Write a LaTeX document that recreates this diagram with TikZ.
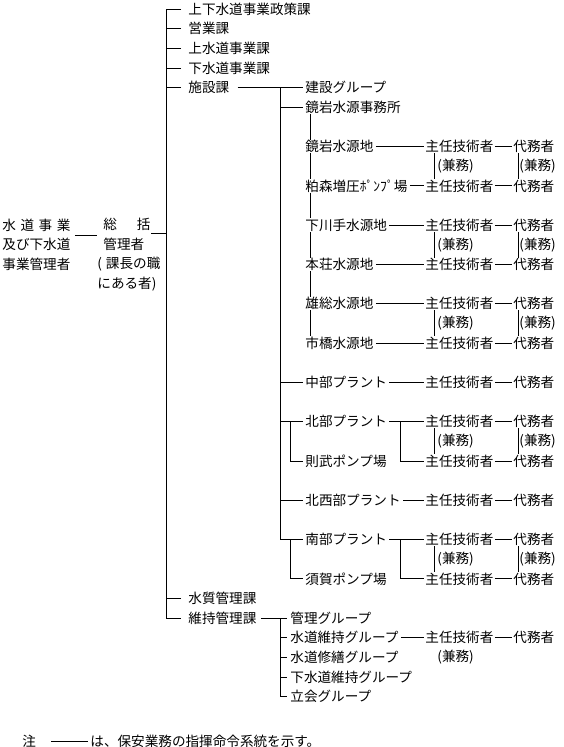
\documentclass[tikz,border=0pt]{standalone}
\usepackage{fontspec}
\setmainfont{Noto Sans CJK JP}
\usetikzlibrary{positioning}

\tikzset{
    lbl/.style={anchor=west,inner sep=0pt,font=\fontsize{13.6}{19.65}\selectfont},
    dbl/.style={double,double distance=2pt,line width=0.5pt},
}

\begin{document}
\begin{tikzpicture}[x=1pt,y=-19.65pt,line width=0.8pt]
    \useasboundingbox (0,-0.458) rectangle (563,37.557);
    \node (kanri) [lbl,align=left] at (2,12) {\makebox[68pt][s]{水\hfill 道\hfill 事\hfill 業}\\及び下水道\\事業管理者};
    \node (sokatsu) [lbl,align=left] at (97,12.5) {\hspace{6pt}総\hspace{20pt}括\\\hspace{6pt}管理者\\(\hspace{4pt}課長の職\\にある者)};
    \coordinate (t0) at (166,0);
    \coordinate (t31) at (166,31);
    \draw (kanri.east |- 0,11.5) ++(4,0) -- (sokatsu.west |- 0,11.5);
    \draw (151,11.4) -- (t0 |- 0,11.4);
    \node (d0) [lbl] at (188,0) {上下水道事業政策課};
    \node (d1) [lbl] at (188,1) {営業課};
    \node (d2) [lbl] at (188,2) {上水道事業課};
    \node (d3) [lbl] at (188,3) {下水道事業課};
    \node (d4) [lbl] at (188,4) {施設課};
    \node (d30) [lbl] at (188,30) {水質管理課};
    \node (d31) [lbl] at (188,31) {維持管理課};
    \draw ([xshift=-7pt]d0.west) -- (t0) -- (t31) -- ([xshift=-7pt]d31.west);
    \foreach \n in {d1,d2,d3,d4,d30}
        \draw ([xshift=-7pt]\n.west) -- (t0 |- \n.west);
    \node (g4) [lbl] at (305,4) {建設グループ};
    \node (g5) [lbl] at (305,5) {鏡岩水源事務所};
    \coordinate (s4) at (280,4);
    \coordinate (s27) at (280,27);
    \draw ([xshift=8pt]d4.east) -- ([xshift=-2pt]g4.west);
    \draw (s4) -- (s27);
    \draw (s4 |- g5.west) -- ([xshift=-2pt]g5.west);
    \node (k7) [lbl] at (305,7) {鏡岩水源地};
    \node (k9) [lbl] at (305,9) {粕森増圧ﾎﾟﾝﾌﾟ場};
    \node (k11) [lbl] at (305,11) {下川手水源地};
    \node (k13) [lbl] at (305,13) {本荘水源地};
    \node (k15) [lbl] at (305,15) {雄総水源地};
    \node (k17) [lbl] at (305,17) {市橋水源地};
    \draw ([xshift=5pt]g5.south west) -- ([xshift=5pt]k7.north west);
    \foreach \a/\b in {7/9,9/11,11/13,13/15,15/17}
        \draw ([xshift=5pt]k\a.south west) -- ([xshift=5pt]k\b.north west);
    \node (p19) [lbl] at (305,19) {中部プラント};
    \node (p21) [lbl] at (305,21) {北部プラント};
    \node (p23) [lbl] at (305,23) {則武ポンプ場};
    \node (p25) [lbl] at (305,25) {北西部プラント};
    \node (p27) [lbl] at (305,27) {南部プラント};
    \node (p29) [lbl] at (305,29) {須賀ポンプ場};
    \foreach \r in {19,21,25}
        \draw (s4 |- p\r.west) -- ([xshift=-2pt]p\r.west);
    \draw (s27) -- ([xshift=-2pt]p27.west);
    \draw (290,21) |- ([xshift=-2pt]p23.west);
    \draw (290,27) |- ([xshift=-2pt]p29.west);
    \foreach \r in {7,9,11,13,15,17,19,21,23,25,27,29,32} {
        \node (e\r) [lbl] at (425,\r) {主任技術者};
        \node (a\r) [lbl] at (513,\r) {代務者};
        \draw ([xshift=1pt]e\r.east) -- ([xshift=-1pt]a\r.west);
    }
    \foreach \r in {7,9,11,13,15,17}
        \draw ([xshift=2pt]k\r.east) -- ([xshift=-1pt]e\r.west);
    \foreach \r in {19,21,25,27}
        \draw ([xshift=2pt]p\r.east) -- ([xshift=-1pt]e\r.west);
    \draw (400,21) |- ([xshift=-1pt]e23.west);
    \draw (400,27) |- ([xshift=-1pt]e29.west);
    \foreach \r in {8,12,16,22,28} {
        \node (c\r) [lbl] at (437,\r) {(兼務)};
        \node (b\r) [lbl] at (519,\r) {(兼務)};
    }
    \foreach \a/\b in {7/9,11/13,15/17,21/23,27/29} {
        \draw [dbl] ([xshift=8pt]e\a.south west) -- ([xshift=8pt]e\b.north west);
        \draw [dbl] ([xshift=4pt]a\a.south west) -- ([xshift=4pt]a\b.north west);
    }
    \node (g31) [lbl] at (290,31) {管理グループ};
    \node (g32) [lbl] at (290,32) {水道維持グループ};
    \node (g33) [lbl] at (290,33) {水道修繕グループ};
    \node (g34) [lbl] at (290,34) {下水道維持グループ};
    \node (g35) [lbl] at (290,35) {立会グループ};
    \node (c33) [lbl] at (437,33) {(兼務)};
    \draw ([xshift=4pt]d31.east) -- ([xshift=-3pt]g31.west);
    \draw (280,31) |- ([xshift=-3pt]g35.west);
    \foreach \r in {32,33,34}
        \draw (280,\r) -- ([xshift=-3pt]g\r.west);
    \draw ([xshift=2pt]g32.east) -- ([xshift=-1pt]e32.west);
    \node (chu) [lbl] at (22,37.25) {注};
    \node (setsumei) [lbl] at (90,37.25) {は、保安業務の指揮命令系統を示す。};
    \draw ([xshift=15pt]chu.east) -- ([xshift=-2pt]setsumei.west);
\end{tikzpicture}
\end{document}
